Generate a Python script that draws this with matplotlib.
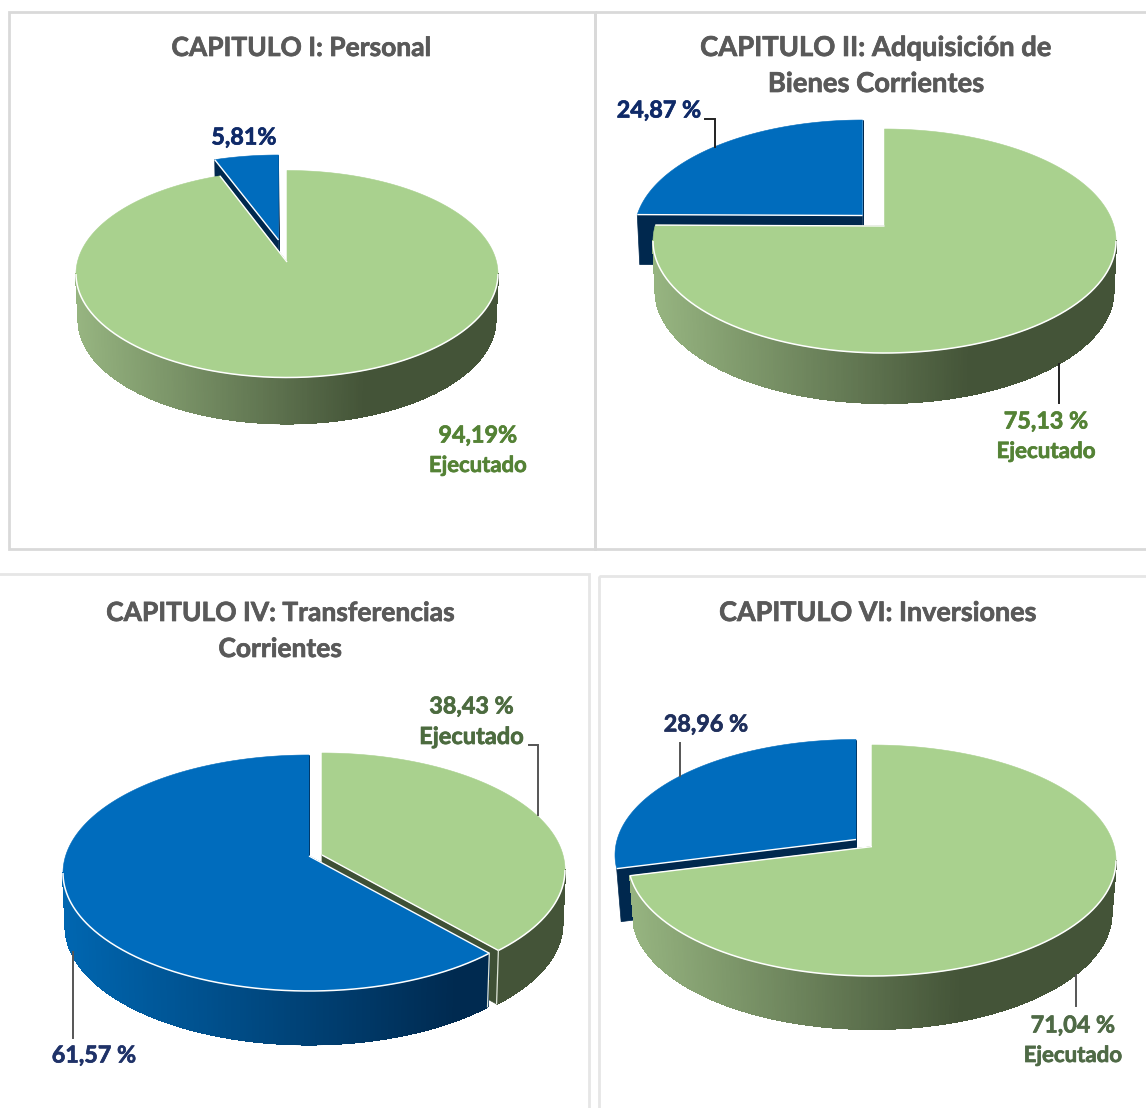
import numpy as np
import matplotlib
matplotlib.use("Agg")
import matplotlib.pyplot as plt
import matplotlib.patheffects as pe
from matplotlib.collections import LineCollection, PolyCollection
from matplotlib.colors import LinearSegmentedColormap
from matplotlib.patches import Polygon, Rectangle

# data: share executed vs. not executed per chapter
titles = ["CAPITULO I: Personal", "CAPITULO II: Adquisición de\nBienes Corrientes",
          "CAPITULO IV: Transferencias\nCorrientes", "CAPITULO VI: Inversiones"]
ejecutado = [94.19, 75.13, 38.43, 71.04]
resto = [5.81, 24.87, 61.57, 28.96]
ejecutado_labels = ["94,19%\nEjecutado", "75,13 %\nEjecutado", "38,43 %\nEjecutado", "71,04 %\nEjecutado"]
resto_labels = ["5,81%", "24,87 %", "61,57 %", "28,96 %"]

# layout, in pixels of the reference. disc = cx, cy, rx, ry, apex_y
green_disc = [(287, 274, 211, 103.5, 262), (884.5, 241, 231.5, 112, 226),
              (322, 870, 243, 117, 855), (872, 860.5, 244, 115.5, 846.6)]
blue_disc = [(278.5, 258.5, 215, 103.5, 240), (862.5, 232, 228, 112, 215.5),
             (309, 873, 246, 118, 856), (856, 855, 241, 115.5, 839.5)]
depths = [46, 50, 53.5, 53]
shrinks = [2.5, 2.5, 2.5, 4.5]
blue_first = [True, True, False, True]
title_xy = [(301, 48), (876, 48), (280, 613), (877, 613)]
title_sizes = [19, 19.7, 19, 19.4]
green_label_xy = [(478, 436), (1046, 422), (471.5, 707), (1073, 1026)]
blue_label_xy = [(244, 138), (659, 111), (94, 1056), (706, 725)]
eje_sizes = [15.9, 16.1, 17, 16]
green_leaders = [None, [(1059, 364), (1059, 403)], [(529, 745), (538, 745), (538, 815)], [(1075.5, 975), (1075.5, 1006)]]
blue_leaders = [None, [(715, 147), (715, 119), (705, 119)], [(73, 952), (73, 1038)], [(680, 776), (680, 743)]]
panels = [(9, 12, 595, 549), (595, 12, 1150, 549), (-5, 574, 589, 1115), (599, 576, 1150, 1115)]
panel_cols = ["#d9d9d9", "#d9d9d9", "#e6e6e6", "#e6e6e6"]
green_text = ["#548235", "#548235", "#4c6b3f", "#4f6a46"]
blue_text = ["#0f2a68", "#0f2a68", "#1f3268", "#1f2f5c"]

GREEN, BLUE = "#a9d18e", "#006cbd"
green_side = LinearSegmentedColormap.from_list("g", [(0, "#96b480"), (0.68, "#445438"), (1, "#445438")])
blue_side = LinearSegmentedColormap.from_list("b", [(0, "#0066b0"), (0.8, "#002a50"), (1, "#002a50")])

plt.rcParams['font.family'] = ['Lato', 'DejaVu Sans']
fig = plt.figure(figsize=(11.46, 11.08), dpi=100)
ax = fig.add_axes([0, 0, 1, 1])
ax.set_xlim(0, 1146)
ax.set_ylim(1108, 0)
ax.axis('off')


def ray_angle(th, a):
    # where a ray from the (off centre) apex hits the unit circle
    u, v = np.sin(th), -np.cos(th)
    b = a*v
    t = -b + np.sqrt(b*b - (a*a - 1))
    return np.arctan2(u*t, -(a + v*t)) % (2*np.pi)


def draw_slice(disc, depth, shrink, t0, t1, top_col, side_cmap, dark_col, zbase):
    cx, cy, rx, ry, apex_y = disc
    a = (apex_y - cy)/ry
    p0 = ray_angle(t0, a) if t0 > 0 else 0.0
    p1 = ray_angle(t1, a) if t1 < 2*np.pi - 1e-6 else 2*np.pi
    rb = rx - shrink

    def top(p):
        return cx + rx*np.sin(p), cy - ry*np.cos(p)

    def bot(p):
        return cx + rb*np.sin(p), cy + depth - ry*np.cos(p)

    # cut faces
    for p in (p0, p1):
        xe, ye = top(p)
        xb, yb = bot(p)
        ax.add_patch(Polygon([(cx, apex_y), (xe, ye), (xb, yb), (cx, apex_y + depth)],
                             fc=dark_col, ec=dark_col, lw=0.5, zorder=zbase))

    # outer wall, front half only (a tiny sliver of it just reads as cut face)
    fa, fb = max(p0, np.pi/2), min(p1, 3*np.pi/2)
    if fb - fa > np.radians(15):
        ps = np.linspace(fa, fb, 300)
        quads, cols, segs = [], [], []
        for i in range(len(ps) - 1):
            x0, y0 = top(ps[i])
            x1, y1 = top(ps[i + 1])
            x2, y2 = bot(ps[i + 1])
            x3, y3 = bot(ps[i])
            quads.append([(x0, y0), (x1, y1), (x2, y2), (x3, y3)])
            segs.append([(x3, y3), (x2, y2)])
            cols.append(side_cmap(((x0 + x1)/2 - (cx - rx))/(2*rx)))
        ax.add_collection(PolyCollection(quads, facecolors=cols, edgecolors=cols, linewidths=0.8,
                                         antialiaseds=False, zorder=zbase + 1))
        # smooth off the lower edge of the wall
        ax.add_collection(LineCollection(segs, colors=cols, linewidths=1.0, zorder=zbase + 1))

    # top face
    ps = np.linspace(p0, p1, 400)
    xs, ys = top(ps)
    ax.add_patch(Polygon(np.vstack([[(cx, apex_y)], np.column_stack([xs, ys])]), fc=top_col, ec=top_col, lw=0.4,
                         zorder=zbase + 2))

    # pale rims
    if fb - fa > np.radians(15):
        ps = np.linspace(fa, fb, 240)
        xs, ys = top(ps)
        ax.plot(xs, ys, color="white", lw=1.1, zorder=zbase + 3, solid_capstyle='butt')
    for p, t in ((p0, t0), (p1, t1)):
        if 0 < t < 2*np.pi - 1e-6:
            xe, ye = top(p)
            ax.plot([cx, xe], [apex_y, ye], color="white", lw=1.0, zorder=zbase + 3, solid_capstyle='butt')
            if np.pi/2 < p < 3*np.pi/2 and np.pi*0.3 < t < np.pi*1.2:
                xb, yb = bot(p)
                ax.plot([xe, xb], [ye, yb], color="#dfe6da", lw=0.9, zorder=zbase + 3)


def put_text(x, y, s, size, col):
    t = ax.text(x, y, s, ha='center', va='center', fontsize=size, fontweight='bold', color=col, zorder=40)
    t.set_path_effects([pe.withStroke(linewidth=0.5, foreground=col)])


for i in range(4):
    x0, y0, x1, y1 = panels[i]
    ax.add_patch(Rectangle((x0, y0), x1 - x0, y1 - y0, fc="none", ec=panel_cols[i], lw=2.0, zorder=1))

    total = ejecutado[i] + resto[i]
    split = 2*np.pi*ejecutado[i]/total
    green_z, blue_z = (20, 10) if blue_first[i] else (10, 20)
    draw_slice(green_disc[i], depths[i], shrinks[i], 0.0, split, GREEN, green_side, "#3f5035", green_z)
    draw_slice(blue_disc[i], depths[i], shrinks[i], split, 2*np.pi, BLUE, blue_side, "#00284e", blue_z)

    lines = titles[i].split("\n")
    for k, line in enumerate(lines):
        put_text(title_xy[i][0], title_xy[i][1] + 36*k, line, title_sizes[i], "#595959")

    pct, eje = ejecutado_labels[i].split("\n")
    put_text(green_label_xy[i][0], green_label_xy[i][1], pct, 16.8, green_text[i])
    put_text(green_label_xy[i][0], green_label_xy[i][1] + 29.5, eje, eje_sizes[i], green_text[i])
    put_text(blue_label_xy[i][0], blue_label_xy[i][1], resto_labels[i], 16.8, blue_text[i])

    for leader in (green_leaders[i], blue_leaders[i]):
        if leader is not None:
            ax.plot([p[0] for p in leader], [p[1] for p in leader], color="#222222" if i < 2 else "#555555",
                    lw=1.4, zorder=35, solid_joinstyle='miter')

fig.savefig("out.png", dpi=100)
